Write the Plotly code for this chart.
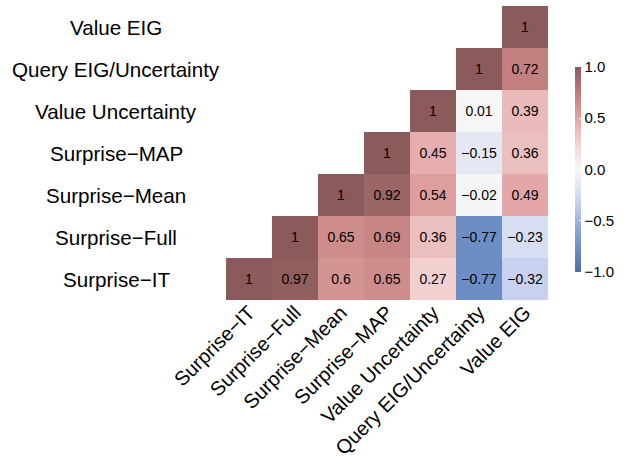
import plotly.graph_objects as go

labels = ["Surprise−IT", "Surprise−Full", "Surprise−Mean", "Surprise−MAP",
          "Value Uncertainty", "Query EIG/Uncertainty", "Value EIG"]

row_surprise_it = [1, 0.97, 0.6, 0.65, 0.27, -0.77, -0.32]
row_surprise_full = [None, 1, 0.65, 0.69, 0.36, -0.77, -0.23]
row_surprise_mean = [None, None, 1, 0.92, 0.54, -0.02, 0.49]
row_surprise_map = [None, None, None, 1, 0.45, -0.15, 0.36]
row_value_unc = [None, None, None, None, 1, 0.01, 0.39]
row_query_eig = [None, None, None, None, None, 1, 0.72]
row_value_eig = [None, None, None, None, None, None, 1]

z = [row_surprise_it, row_surprise_full, row_surprise_mean, row_surprise_map,
     row_value_unc, row_query_eig, row_value_eig]

cbar_ticks = [-1.0, -0.5, 0.0, 0.5, 1.0]
cbar_text = ["−1.0", "−0.5", "0.0", "0.5", "1.0"]


def fmt(v):
    if v is None:
        return ""
    s = ("%.2f" % abs(v)).rstrip("0").rstrip(".")
    return ("−" if v < 0 else "") + s


text = [[fmt(v) for v in row] for row in z]

colorscale = [
    [0.0, "rgb(80,110,165)"],
    [0.115, "rgb(108,142,196)"],
    [0.25, "rgb(158,178,224)"],
    [0.34, "rgb(200,210,240)"],
    [0.425, "rgb(228,232,245)"],
    [0.5, "rgb(247,247,247)"],
    [0.635, "rgb(243,208,208)"],
    [0.75, "rgb(226,165,165)"],
    [0.86, "rgb(196,128,128)"],
    [1.0, "rgb(139,90,90)"],
]

fig = go.Figure(go.Heatmap(
    z=z, x=labels, y=labels, text=text, texttemplate="%{text}",
    textfont=dict(size=14, color="black", family="Liberation Sans"),
    colorscale=colorscale, zmin=-1, zmax=1, hoverongaps=False,
    colorbar=dict(
        thickness=6, thicknessmode="pixels", len=225, lenmode="pixels",
        x=1.053, xanchor="left", y=0.444, yanchor="middle",
        tickvals=cbar_ticks, ticktext=cbar_text, ticks="inside",
        tickcolor="white", ticklen=2, outlinewidth=0,
        tickfont=dict(size=15, color="black", family="Liberation Sans"),
    ),
))

annotations = []
for lab in labels:
    annotations.append(dict(
        x=-0.3416, xref="paper", y=lab, yref="y", text=lab, showarrow=False,
        xanchor="center", yanchor="middle",
        font=dict(size=20.6, color="black", family="Liberation Sans"),
    ))

fig.update_layout(
    width=624, height=463,
    margin=dict(l=226, r=76, t=6, b=163, autoexpand=False),
    paper_bgcolor="white", plot_bgcolor="white",
    annotations=annotations,
    xaxis=dict(tickangle=-45, showgrid=False, zeroline=False, ticks="",
               automargin=False, ticklabelstandoff=-4,
               tickfont=dict(size=20, color="black", family="Liberation Sans")),
    yaxis=dict(showticklabels=False, showgrid=False, zeroline=False, ticks="",
               automargin=False),
)

fig.write_html("out.html", config={"displayModeBar": False},
               post_script="document.body.style.margin='0px';")
